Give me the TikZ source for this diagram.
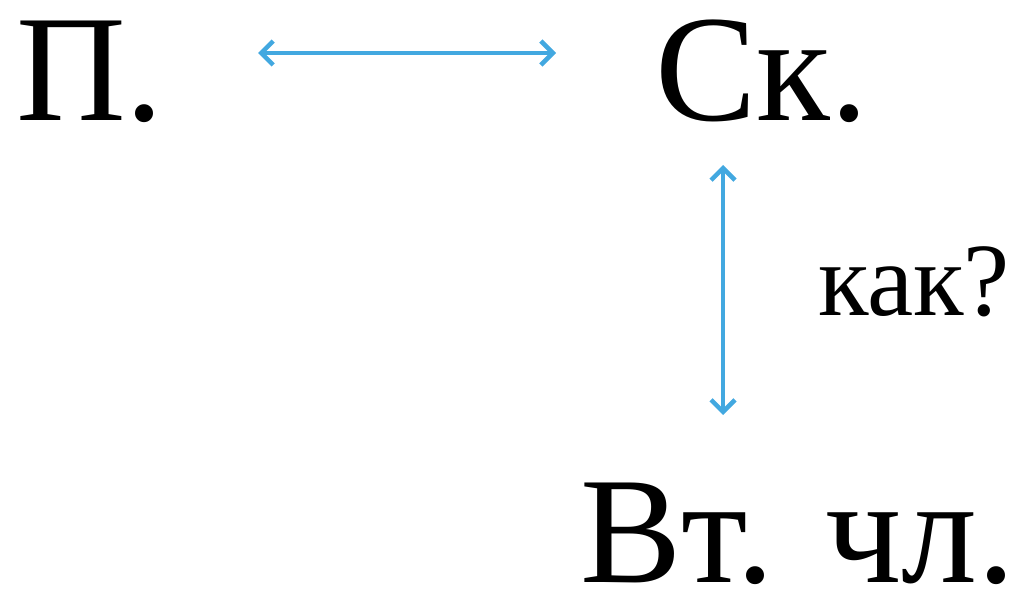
\documentclass[tikz,border=0pt]{standalone}
\usepackage{fontspec}
\setmainfont{Liberation Serif}
\usepackage{xcolor}
\usetikzlibrary{arrows.meta, positioning}
\definecolor{ArrowBlue}{RGB}{66,168,224}

\tikzset{
  bigword/.style={anchor=base west, inner sep=0pt, font=\fontsize{152}{152}\selectfont},
  smallword/.style={anchor=base west, inner sep=0pt, font=\fontsize{104}{104}\selectfont},
  linkarrow/.style={ArrowBlue, line width=4.5pt, line cap=round,
                    {Straight Barb[length=12pt, width=24pt, line width=4.5pt]}-{Straight Barb[length=12pt, width=24pt, line width=4.5pt]}}
}

\begin{document}
\begin{tikzpicture}[x=1pt, y=-1pt]
\useasboundingbox (0,0) rectangle (1026,589);

% ---- words ----
\node[bigword] (pred) at (16,120) {П.};
\node[bigword] (skaz) at (655,120) {Ск.};
\node[bigword] (vtor) at (580,582) {Вт. чл.};
\node[smallword] (kak) at (818,315) {как?};

% ---- arrow ends ----
\coordinate (hleft)  at (258,53);
\coordinate (hright) at (556,53);
\coordinate (vtop)   at (723,165);
\coordinate (vbot)   at (723,415);

\draw[linkarrow] (hleft) -- (hright);
\draw[linkarrow] (vtop) -- (vbot);

\end{tikzpicture}
\end{document}
